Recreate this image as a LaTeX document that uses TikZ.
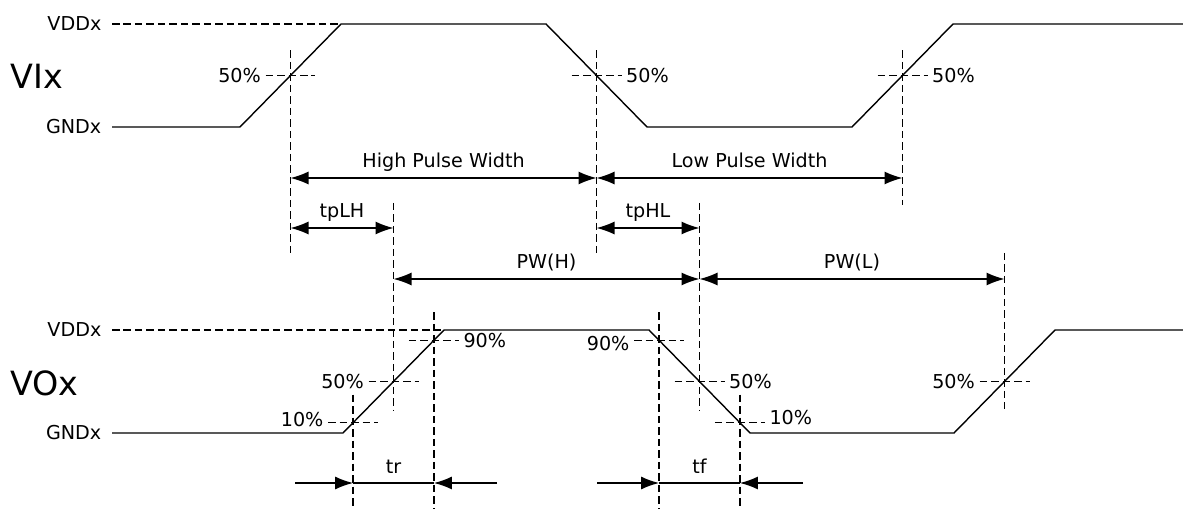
\documentclass[tikz,border=0pt]{standalone}
\usepackage{fontspec}
\setmainfont{DejaVu Sans}
\usetikzlibrary{arrows.meta,calc}

\begin{document}
\begin{tikzpicture}[
		x=0.02cm, y=-0.02cm,
		font=\fontsize{10.9}{13}\selectfont,
		wave/.style={line width=0.8pt, line join=miter},
		guide/.style={line width=0.75pt, dash pattern=on 1.5mm off 0.8mm},
		dim/.style={line width=0.8pt},
		arr/.style={-{Latex[length=3.6mm, width=2.6mm]}},
		both/.style={{Latex[length=3.6mm, width=2.6mm]}-{Latex[length=3.6mm, width=2.6mm]}},
		lvl/.style={left=2mm, inner sep=0pt},
		pct/.style={inner sep=0.8mm},
		dlbl/.style={midway, anchor=base, yshift=2mm},
		big/.style={font=\fontsize{19}{22}\selectfont, inner sep=0pt, anchor=west}
		]
		\useasboundingbox (0,0) rectangle (1183,509);
		\coordinate (vi0) at (112,127);
		\coordinate (vi1) at (240,127);
		\coordinate (vi2) at (341,24);
		\coordinate (vi3) at (546,24);
		\coordinate (vi4) at (647,127);
		\coordinate (vi5) at (852,127);
		\coordinate (vi6) at (953,24);
		\coordinate (vi7) at (1183,24);
		\coordinate (vidd) at (112,24);
		\coordinate (vo0) at (112,433);
		\coordinate (vo1) at (343,433);
		\coordinate (vo2) at (444,330);
		\coordinate (vo3) at (649,330);
		\coordinate (vo4) at (750,433);
		\coordinate (vo5) at (954,433);
		\coordinate (vo6) at (1055,330);
		\coordinate (vo7) at (1183,330);
		\coordinate (vodd) at (112,330);
		\coordinate (xr1) at ($(vi1)!.5!(vi2)$);
		\coordinate (xf1) at ($(vi3)!.5!(vi4)$);
		\coordinate (xr2) at ($(vi5)!.5!(vi6)$);
		\coordinate (o10r) at ($(vo1)!.1!(vo2)$);
		\coordinate (o50r) at ($(vo1)!.5!(vo2)$);
		\coordinate (o90r) at ($(vo1)!.9!(vo2)$);
		\coordinate (o90f) at ($(vo3)!.1!(vo4)$);
		\coordinate (o50f) at ($(vo3)!.5!(vo4)$);
		\coordinate (o10f) at ($(vo3)!.9!(vo4)$);
		\coordinate (o50r2) at ($(vo5)!.5!(vo6)$);
		\coordinate (l1) at (0,178);
		\coordinate (l2) at (0,228);
		\coordinate (l3) at (0,279);
		\coordinate (trl) at (295,483);
		\coordinate (trr) at (497,483);
		\coordinate (tfl) at (597,483);
		\coordinate (tfr) at (803,483);
		\node[big] (vix) at (10,76) {VIx};
		\node[big] (vox) at (10,383) {VOx};
		\draw[guide] (vidd) node[lvl] (vdd1) {VDDx} -- (vi2);
		\draw[wave] (vi0) node[lvl] (gnd1) {GNDx} -- (vi1) -- (vi2) -- (vi3)
		-- (vi4) -- (vi5) -- (vi6) -- (vi7);
		\draw[guide] (vodd) node[lvl] (vdd2) {VDDx} -- (vo2);
		\draw[wave] (vo0) node[lvl] (gnd2) {GNDx} -- (vo1) -- (vo2) -- (vo3)
		-- (vo4) -- (vo5) -- (vo6) -- (vo7);
		\draw[guide] ([xshift=-5mm]xr1) node[pct, left] {50\%} -- ([xshift=5mm]xr1);
		\draw[guide] ([xshift=-5mm]xf1) -- ([xshift=5mm]xf1) node[pct, right] {50\%};
		\draw[guide] ([xshift=-5mm]xr2) -- ([xshift=5mm]xr2) node[pct, right] {50\%};
		\draw[guide] ([xshift=-5mm]o10r) node[pct, left, yshift=0.6mm] {10\%} -- ([xshift=5mm]o10r);
		\draw[guide] ([xshift=-5mm]o50r) node[pct, left] {50\%} -- ([xshift=5mm]o50r);
		\draw[guide] ([xshift=-5mm]o90r) -- ([xshift=5mm]o90r) node[pct, right] {90\%};
		\draw[guide] ([xshift=-5mm]o90f) node[pct, left, yshift=-0.6mm] {90\%} -- ([xshift=5mm]o90f);
		\draw[guide] ([xshift=-5mm]o50f) -- ([xshift=5mm]o50f) node[pct, right] {50\%};
		\draw[guide] ([xshift=-5mm]o10f) -- ([xshift=5mm]o10f) node[pct, right, yshift=1mm] {10\%};
		\draw[guide] ([xshift=-5mm]o50r2) node[pct, left] {50\%} -- ([xshift=5mm]o50r2);
		\draw[guide] (xr1) ++(0,-25) -- ++(0,205);
		\draw[guide] (xf1) ++(0,-25) -- ++(0,205);
		\draw[guide] (xr2) ++(0,-25) -- ++(0,155);
		\draw[guide] (o50r) ++(0,-178.5) -- ++(0,207);
		\draw[guide] (o50f) ++(0,-178.5) -- ++(0,207);
		\draw[guide] (o50r2) ++(0,-128.5) -- ++(0,156);
		\draw[guide] (o90r) ++(0,-28) -- ++(0,197);
		\draw[guide] (o90f) ++(0,-28) -- ++(0,197);
		\draw[guide] (o10r) ++(0,-28) -- ++(0,114);
		\draw[guide] (o10f) ++(0,-28) -- ++(0,114);
		\draw[dim, both] (xr1 |- l1) -- (xf1 |- l1) node[dlbl] {High Pulse Width};
		\draw[dim, both] (xf1 |- l1) -- (xr2 |- l1) node[dlbl] {Low Pulse Width};
		\draw[dim, both] (xr1 |- l2) -- (o50r |- l2) node[dlbl] {tpLH};
		\draw[dim, both] (xf1 |- l2) -- (o50f |- l2) node[dlbl] {tpHL};
		\draw[dim, both] (o50r |- l3) -- (o50f |- l3) node[dlbl] {PW(H)};
		\draw[dim, both] (o50f |- l3) -- (o50r2 |- l3) node[dlbl] {PW(L)};
		\draw[dim, arr] (trl) -- (o10r |- trl);
		\draw[dim] (o10r |- trl) -- (o90r |- trl) node[dlbl] {tr};
		\draw[dim, arr] (trr) -- (o90r |- trr);
		\draw[dim, arr] (tfl) -- (o90f |- tfl);
		\draw[dim] (o90f |- tfl) -- (o10f |- tfl) node[dlbl] {tf};
		\draw[dim, arr] (tfr) -- (o10f |- tfr);
	\end{tikzpicture}
\end{document}
